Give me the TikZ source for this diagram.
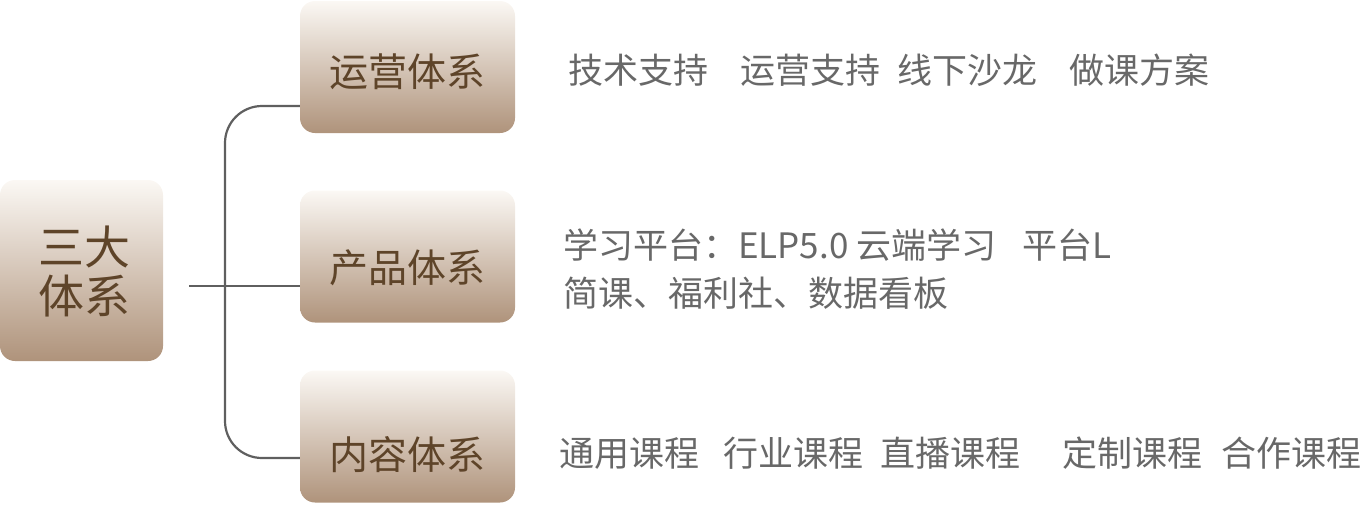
\documentclass[tikz,border=0pt]{standalone}
\usepackage{fontspec}
\setmainfont{Noto Sans CJK SC}
\usepackage{tikz}
\usetikzlibrary{positioning}
\definecolor{boxtop}{HTML}{FBF8F4}
\definecolor{boxbottom}{HTML}{AF937B}
\definecolor{labelbrown}{HTML}{5E4429}
\definecolor{itemgray}{HTML}{686868}
\definecolor{linkgray}{HTML}{5F5F5F}
\tikzset{
    catbox/.style={rounded corners=15pt,top color=boxtop,bottom color=boxbottom,draw=none,
        minimum width=215pt,minimum height=132pt,inner sep=0pt},
    rootbox/.style={catbox,minimum width=163pt,minimum height=181pt},
    cattext/.style={text=labelbrown,inner sep=0pt,font=\fontsize{39}{44}\selectfont},
    roottext/.style={text=labelbrown,inner sep=0pt,align=center,font=\fontsize{46}{49}\selectfont},
    itemtext/.style={text=itemgray,inner sep=0pt,anchor=west,align=left,font=\fontsize{35}{48}\selectfont},
    link/.style={draw=linkgray,line width=2.2pt}
}

\begin{document}
\begin{tikzpicture}[x=1pt,y=-1pt]
                \useasboundingbox (0,0) rectangle (1362,504);
                \def\bx{225}
                % boxes
                \node[rootbox] (root) at (81.5,270.5) {};
                \node[catbox] (yy) at (407.5,67) {};
                \node[catbox] (cp) at (407.5,256.5) {};
                \node[catbox] (nr) at (407.5,436.5) {};
                \node[roottext] at (84,271) {三大\\体系};
                \node[cattext] at ([yshift=-5pt]yy.center) {运营体系};
                \node[cattext] at ([yshift=-11pt]cp.center) {产品体系};
                \node[cattext] at ([yshift=-18pt]nr.center) {内容体系};
                % links
                \coordinate (root-out) at (189,286);
                \coordinate (yy-in) at (yy.west |- 0,106);
                \coordinate (nr-in) at (nr.west |- 0,458);
                \draw[link,rounded corners=37pt] (yy-in) -- (\bx,106) -- (\bx,458) -- (nr-in);
                \draw[link] (root-out) -- (cp.west |- root-out);
                % items
                \node[itemtext] (yy-items) at (568,70)
                    {技术支持\hspace{32pt}运营支持\hspace{17pt}线下沙龙\hspace{32pt}做课方案};
                \node[itemtext] (cp-items) at (563,269)
                    {学习平台：ELP5.0\hspace{8pt}云端学习\hspace{26pt}平台L\\简课、福利社、数据看板};
                \node[itemtext] (nr-items) at (559,453)
                    {通用课程\hspace{24pt}行业课程\hspace{17pt}直播课程\hspace{42pt}定制课程\hspace{19pt}合作课程};
\end{tikzpicture}
\end{document}
